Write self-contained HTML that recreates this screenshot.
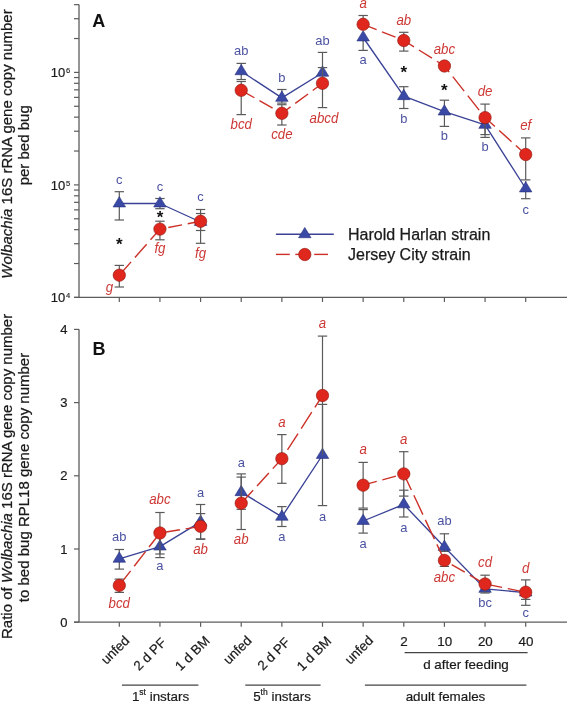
<!DOCTYPE html>
<html><head><meta charset="utf-8"><title>Wolbachia bed bug figure</title><style>
html,body{margin:0;padding:0;background:#fff;}
svg{display:block;will-change:transform;}
text{font-family:"Liberation Sans",sans-serif;}
.tl{font-size:13px;fill:#1a1a1a;stroke:#1a1a1a;stroke-width:0.2px;}
.sup{font-size:7.6px;fill:#1a1a1a;stroke:#1a1a1a;stroke-width:0.15px;}
.pl{font-size:18px;font-weight:bold;fill:#111;}
.yl{font-size:15px;fill:#1a1a1a;stroke:#1a1a1a;stroke-width:0.25px;}
.lb{font-size:13.6px;fill:#4a51a0;}
.lr{font-size:14px;fill:#cc3835;font-style:italic;}
.st{font-size:17px;font-weight:bold;fill:#111;}
.lg{font-size:16px;fill:#1a1a1a;stroke:#1a1a1a;stroke-width:0.25px;}
.xl{font-size:13.4px;fill:#1a1a1a;stroke:#1a1a1a;stroke-width:0.2px;}
.ss{font-size:8.5px;}
</style></head>
<body><svg width="567" height="702" viewBox="0 0 567 702">
<rect width="567" height="702" fill="#fff"/>
<line x1="79.0" y1="4.6" x2="79.0" y2="297.4" stroke="#5c5c5c" stroke-width="1.3"/>
<line x1="74" y1="297.4" x2="567" y2="297.4" stroke="#5c5c5c" stroke-width="1.3"/>
<line x1="74" y1="297.40" x2="79.0" y2="297.40" stroke="#5c5c5c" stroke-width="1.2"/>
<line x1="74" y1="263.53" x2="79.0" y2="263.53" stroke="#5c5c5c" stroke-width="1.2"/>
<line x1="74" y1="243.72" x2="79.0" y2="243.72" stroke="#5c5c5c" stroke-width="1.2"/>
<line x1="74" y1="229.67" x2="79.0" y2="229.67" stroke="#5c5c5c" stroke-width="1.2"/>
<line x1="74" y1="218.77" x2="79.0" y2="218.77" stroke="#5c5c5c" stroke-width="1.2"/>
<line x1="74" y1="209.86" x2="79.0" y2="209.86" stroke="#5c5c5c" stroke-width="1.2"/>
<line x1="74" y1="202.33" x2="79.0" y2="202.33" stroke="#5c5c5c" stroke-width="1.2"/>
<line x1="74" y1="195.80" x2="79.0" y2="195.80" stroke="#5c5c5c" stroke-width="1.2"/>
<line x1="74" y1="190.05" x2="79.0" y2="190.05" stroke="#5c5c5c" stroke-width="1.2"/>
<line x1="74" y1="184.90" x2="79.0" y2="184.90" stroke="#5c5c5c" stroke-width="1.2"/>
<line x1="74" y1="151.03" x2="79.0" y2="151.03" stroke="#5c5c5c" stroke-width="1.2"/>
<line x1="74" y1="131.22" x2="79.0" y2="131.22" stroke="#5c5c5c" stroke-width="1.2"/>
<line x1="74" y1="117.17" x2="79.0" y2="117.17" stroke="#5c5c5c" stroke-width="1.2"/>
<line x1="74" y1="106.27" x2="79.0" y2="106.27" stroke="#5c5c5c" stroke-width="1.2"/>
<line x1="74" y1="97.36" x2="79.0" y2="97.36" stroke="#5c5c5c" stroke-width="1.2"/>
<line x1="74" y1="89.83" x2="79.0" y2="89.83" stroke="#5c5c5c" stroke-width="1.2"/>
<line x1="74" y1="83.30" x2="79.0" y2="83.30" stroke="#5c5c5c" stroke-width="1.2"/>
<line x1="74" y1="77.55" x2="79.0" y2="77.55" stroke="#5c5c5c" stroke-width="1.2"/>
<line x1="74" y1="72.40" x2="79.0" y2="72.40" stroke="#5c5c5c" stroke-width="1.2"/>
<line x1="74" y1="38.53" x2="79.0" y2="38.53" stroke="#5c5c5c" stroke-width="1.2"/>
<line x1="74" y1="18.72" x2="79.0" y2="18.72" stroke="#5c5c5c" stroke-width="1.2"/>
<line x1="74" y1="4.67" x2="79.0" y2="4.67" stroke="#5c5c5c" stroke-width="1.2"/>
<line x1="119.30" y1="297.4" x2="119.30" y2="302.0" stroke="#5c5c5c" stroke-width="1.2"/>
<line x1="159.94" y1="297.4" x2="159.94" y2="302.0" stroke="#5c5c5c" stroke-width="1.2"/>
<line x1="200.58" y1="297.4" x2="200.58" y2="302.0" stroke="#5c5c5c" stroke-width="1.2"/>
<line x1="241.22" y1="297.4" x2="241.22" y2="302.0" stroke="#5c5c5c" stroke-width="1.2"/>
<line x1="281.86" y1="297.4" x2="281.86" y2="302.0" stroke="#5c5c5c" stroke-width="1.2"/>
<line x1="322.50" y1="297.4" x2="322.50" y2="302.0" stroke="#5c5c5c" stroke-width="1.2"/>
<line x1="363.14" y1="297.4" x2="363.14" y2="302.0" stroke="#5c5c5c" stroke-width="1.2"/>
<line x1="403.78" y1="297.4" x2="403.78" y2="302.0" stroke="#5c5c5c" stroke-width="1.2"/>
<line x1="444.42" y1="297.4" x2="444.42" y2="302.0" stroke="#5c5c5c" stroke-width="1.2"/>
<line x1="485.06" y1="297.4" x2="485.06" y2="302.0" stroke="#5c5c5c" stroke-width="1.2"/>
<line x1="525.70" y1="297.4" x2="525.70" y2="302.0" stroke="#5c5c5c" stroke-width="1.2"/>
<text x="65.3" y="302.40" class="tl" text-anchor="end">10</text>
<text x="66.0" y="298.30" class="sup">4</text>
<text x="65.3" y="189.90" class="tl" text-anchor="end">10</text>
<text x="66.0" y="185.80" class="sup">5</text>
<text x="65.3" y="77.40" class="tl" text-anchor="end">10</text>
<text x="66.0" y="73.30" class="sup">6</text>
<line x1="79.0" y1="329.2" x2="79.0" y2="622.2" stroke="#5c5c5c" stroke-width="1.3"/>
<line x1="74" y1="622.2" x2="567" y2="622.2" stroke="#5c5c5c" stroke-width="1.3"/>
<line x1="74" y1="622.20" x2="79.0" y2="622.20" stroke="#5c5c5c" stroke-width="1.2"/>
<text x="67.5" y="626.80" class="tl" text-anchor="end">0</text>
<line x1="74" y1="549.00" x2="79.0" y2="549.00" stroke="#5c5c5c" stroke-width="1.2"/>
<text x="67.5" y="553.60" class="tl" text-anchor="end">1</text>
<line x1="74" y1="475.80" x2="79.0" y2="475.80" stroke="#5c5c5c" stroke-width="1.2"/>
<text x="67.5" y="480.40" class="tl" text-anchor="end">2</text>
<line x1="74" y1="402.60" x2="79.0" y2="402.60" stroke="#5c5c5c" stroke-width="1.2"/>
<text x="67.5" y="407.20" class="tl" text-anchor="end">3</text>
<line x1="74" y1="329.40" x2="79.0" y2="329.40" stroke="#5c5c5c" stroke-width="1.2"/>
<text x="67.5" y="334.00" class="tl" text-anchor="end">4</text>
<line x1="119.30" y1="622.2" x2="119.30" y2="626.8000000000001" stroke="#5c5c5c" stroke-width="1.2"/>
<line x1="159.94" y1="622.2" x2="159.94" y2="626.8000000000001" stroke="#5c5c5c" stroke-width="1.2"/>
<line x1="200.58" y1="622.2" x2="200.58" y2="626.8000000000001" stroke="#5c5c5c" stroke-width="1.2"/>
<line x1="241.22" y1="622.2" x2="241.22" y2="626.8000000000001" stroke="#5c5c5c" stroke-width="1.2"/>
<line x1="281.86" y1="622.2" x2="281.86" y2="626.8000000000001" stroke="#5c5c5c" stroke-width="1.2"/>
<line x1="322.50" y1="622.2" x2="322.50" y2="626.8000000000001" stroke="#5c5c5c" stroke-width="1.2"/>
<line x1="363.14" y1="622.2" x2="363.14" y2="626.8000000000001" stroke="#5c5c5c" stroke-width="1.2"/>
<line x1="403.78" y1="622.2" x2="403.78" y2="626.8000000000001" stroke="#5c5c5c" stroke-width="1.2"/>
<line x1="444.42" y1="622.2" x2="444.42" y2="626.8000000000001" stroke="#5c5c5c" stroke-width="1.2"/>
<line x1="485.06" y1="622.2" x2="485.06" y2="626.8000000000001" stroke="#5c5c5c" stroke-width="1.2"/>
<line x1="525.70" y1="622.2" x2="525.70" y2="626.8000000000001" stroke="#5c5c5c" stroke-width="1.2"/>
<text x="92.2" y="27.3" class="pl">A</text>
<text x="92.6" y="355" class="pl">B</text>
<text transform="translate(12,144) rotate(-90)" class="yl" text-anchor="middle"><tspan font-style="italic">Wolbachia</tspan> 16S rRNA gene copy number</text>
<text transform="translate(28.6,145.3) rotate(-90)" class="yl" text-anchor="middle">per bed bug</text>
<text transform="translate(12,476.4) rotate(-90)" class="yl" text-anchor="middle">Ratio of <tspan font-style="italic">Wolbachia</tspan> 16S rRNA gene copy number</text>
<text transform="translate(28.6,477.5) rotate(-90)" class="yl" text-anchor="middle">to bed bug RPL18 gene copy number</text>
<line x1="119.30" y1="191.70" x2="119.30" y2="220.00" stroke="#5a5a5a" stroke-width="1.2"/><line x1="114.60" y1="191.70" x2="124.00" y2="191.70" stroke="#5a5a5a" stroke-width="1.2"/><line x1="114.60" y1="220.00" x2="124.00" y2="220.00" stroke="#5a5a5a" stroke-width="1.2"/>
<line x1="159.94" y1="198.50" x2="159.94" y2="208.70" stroke="#5a5a5a" stroke-width="1.2"/><line x1="155.24" y1="198.50" x2="164.64" y2="198.50" stroke="#5a5a5a" stroke-width="1.2"/><line x1="155.24" y1="208.70" x2="164.64" y2="208.70" stroke="#5a5a5a" stroke-width="1.2"/>
<line x1="200.58" y1="209.50" x2="200.58" y2="230.50" stroke="#5a5a5a" stroke-width="1.2"/><line x1="195.88" y1="209.50" x2="205.28" y2="209.50" stroke="#5a5a5a" stroke-width="1.2"/><line x1="195.88" y1="230.50" x2="205.28" y2="230.50" stroke="#5a5a5a" stroke-width="1.2"/>
<line x1="241.22" y1="63.40" x2="241.22" y2="79.50" stroke="#5a5a5a" stroke-width="1.2"/><line x1="236.52" y1="63.40" x2="245.92" y2="63.40" stroke="#5a5a5a" stroke-width="1.2"/><line x1="236.52" y1="79.50" x2="245.92" y2="79.50" stroke="#5a5a5a" stroke-width="1.2"/>
<line x1="281.86" y1="89.50" x2="281.86" y2="103.10" stroke="#5a5a5a" stroke-width="1.2"/><line x1="277.16" y1="89.50" x2="286.56" y2="89.50" stroke="#5a5a5a" stroke-width="1.2"/><line x1="277.16" y1="103.10" x2="286.56" y2="103.10" stroke="#5a5a5a" stroke-width="1.2"/>
<line x1="322.50" y1="52.40" x2="322.50" y2="90.00" stroke="#5a5a5a" stroke-width="1.2"/><line x1="317.80" y1="52.40" x2="327.20" y2="52.40" stroke="#5a5a5a" stroke-width="1.2"/>
<line x1="363.14" y1="37.50" x2="363.14" y2="50.40" stroke="#5a5a5a" stroke-width="1.2"/><line x1="358.44" y1="50.40" x2="367.84" y2="50.40" stroke="#5a5a5a" stroke-width="1.2"/>
<line x1="403.78" y1="86.70" x2="403.78" y2="108.50" stroke="#5a5a5a" stroke-width="1.2"/><line x1="399.08" y1="86.70" x2="408.48" y2="86.70" stroke="#5a5a5a" stroke-width="1.2"/><line x1="399.08" y1="108.50" x2="408.48" y2="108.50" stroke="#5a5a5a" stroke-width="1.2"/>
<line x1="444.42" y1="100.20" x2="444.42" y2="126.40" stroke="#5a5a5a" stroke-width="1.2"/><line x1="439.72" y1="100.20" x2="449.12" y2="100.20" stroke="#5a5a5a" stroke-width="1.2"/><line x1="439.72" y1="126.40" x2="449.12" y2="126.40" stroke="#5a5a5a" stroke-width="1.2"/>
<line x1="485.06" y1="124.90" x2="485.06" y2="134.60" stroke="#5a5a5a" stroke-width="1.2"/><line x1="480.36" y1="134.60" x2="489.76" y2="134.60" stroke="#5a5a5a" stroke-width="1.2"/>
<line x1="525.70" y1="181.00" x2="525.70" y2="198.70" stroke="#5a5a5a" stroke-width="1.2"/><line x1="521.00" y1="198.70" x2="530.40" y2="198.70" stroke="#5a5a5a" stroke-width="1.2"/>
<polyline points="119.30,203.50 159.94,203.50 200.58,222.00" fill="none" stroke="#3a4296" stroke-width="1.35" stroke-linejoin="round"/>
<polyline points="241.22,71.30 281.86,97.90 322.50,72.80" fill="none" stroke="#3a4296" stroke-width="1.35" stroke-linejoin="round"/>
<polyline points="363.14,37.50 403.78,96.20 444.42,111.60 485.06,124.90 525.70,188.50" fill="none" stroke="#3a4296" stroke-width="1.35" stroke-linejoin="round"/>
<path d="M119.30 196.63 L125.55 206.93 L113.05 206.93Z" fill="#3a48a6" stroke="#26307a" stroke-width="0.6"/>
<path d="M159.94 196.63 L166.19 206.93 L153.69 206.93Z" fill="#3a48a6" stroke="#26307a" stroke-width="0.6"/>
<path d="M200.58 215.13 L206.83 225.43 L194.33 225.43Z" fill="#3a48a6" stroke="#26307a" stroke-width="0.6"/>
<path d="M241.22 64.43 L247.47 74.73 L234.97 74.73Z" fill="#3a48a6" stroke="#26307a" stroke-width="0.6"/>
<path d="M281.86 91.03 L288.11 101.33 L275.61 101.33Z" fill="#3a48a6" stroke="#26307a" stroke-width="0.6"/>
<path d="M322.50 65.93 L328.75 76.23 L316.25 76.23Z" fill="#3a48a6" stroke="#26307a" stroke-width="0.6"/>
<path d="M363.14 30.63 L369.39 40.93 L356.89 40.93Z" fill="#3a48a6" stroke="#26307a" stroke-width="0.6"/>
<path d="M403.78 89.33 L410.03 99.63 L397.53 99.63Z" fill="#3a48a6" stroke="#26307a" stroke-width="0.6"/>
<path d="M444.42 104.73 L450.67 115.03 L438.17 115.03Z" fill="#3a48a6" stroke="#26307a" stroke-width="0.6"/>
<path d="M485.06 118.03 L491.31 128.33 L478.81 128.33Z" fill="#3a48a6" stroke="#26307a" stroke-width="0.6"/>
<path d="M525.70 181.63 L531.95 191.93 L519.45 191.93Z" fill="#3a48a6" stroke="#26307a" stroke-width="0.6"/>
<line x1="119.30" y1="265.40" x2="119.30" y2="287.00" stroke="#5a5a5a" stroke-width="1.2"/><line x1="114.60" y1="265.40" x2="124.00" y2="265.40" stroke="#5a5a5a" stroke-width="1.2"/><line x1="114.60" y1="287.00" x2="124.00" y2="287.00" stroke="#5a5a5a" stroke-width="1.2"/>
<line x1="159.94" y1="221.20" x2="159.94" y2="239.80" stroke="#5a5a5a" stroke-width="1.2"/><line x1="155.24" y1="221.20" x2="164.64" y2="221.20" stroke="#5a5a5a" stroke-width="1.2"/><line x1="155.24" y1="239.80" x2="164.64" y2="239.80" stroke="#5a5a5a" stroke-width="1.2"/>
<line x1="200.58" y1="213.50" x2="200.58" y2="243.30" stroke="#5a5a5a" stroke-width="1.2"/><line x1="195.88" y1="213.50" x2="205.28" y2="213.50" stroke="#5a5a5a" stroke-width="1.2"/><line x1="195.88" y1="243.30" x2="205.28" y2="243.30" stroke="#5a5a5a" stroke-width="1.2"/>
<line x1="241.22" y1="81.50" x2="241.22" y2="114.60" stroke="#5a5a5a" stroke-width="1.2"/><line x1="236.52" y1="81.50" x2="245.92" y2="81.50" stroke="#5a5a5a" stroke-width="1.2"/><line x1="236.52" y1="114.60" x2="245.92" y2="114.60" stroke="#5a5a5a" stroke-width="1.2"/>
<line x1="281.86" y1="104.70" x2="281.86" y2="125.00" stroke="#5a5a5a" stroke-width="1.2"/><line x1="277.16" y1="104.70" x2="286.56" y2="104.70" stroke="#5a5a5a" stroke-width="1.2"/><line x1="277.16" y1="125.00" x2="286.56" y2="125.00" stroke="#5a5a5a" stroke-width="1.2"/>
<line x1="322.50" y1="67.60" x2="322.50" y2="107.60" stroke="#5a5a5a" stroke-width="1.2"/><line x1="317.80" y1="67.60" x2="327.20" y2="67.60" stroke="#5a5a5a" stroke-width="1.2"/><line x1="317.80" y1="107.60" x2="327.20" y2="107.60" stroke="#5a5a5a" stroke-width="1.2"/>
<line x1="363.14" y1="15.50" x2="363.14" y2="24.30" stroke="#5a5a5a" stroke-width="1.2"/><line x1="358.44" y1="15.50" x2="367.84" y2="15.50" stroke="#5a5a5a" stroke-width="1.2"/>
<line x1="403.78" y1="32.30" x2="403.78" y2="51.10" stroke="#5a5a5a" stroke-width="1.2"/><line x1="399.08" y1="32.30" x2="408.48" y2="32.30" stroke="#5a5a5a" stroke-width="1.2"/><line x1="399.08" y1="51.10" x2="408.48" y2="51.10" stroke="#5a5a5a" stroke-width="1.2"/>

<line x1="485.06" y1="104.10" x2="485.06" y2="137.40" stroke="#5a5a5a" stroke-width="1.2"/><line x1="480.36" y1="104.10" x2="489.76" y2="104.10" stroke="#5a5a5a" stroke-width="1.2"/><line x1="480.36" y1="137.40" x2="489.76" y2="137.40" stroke="#5a5a5a" stroke-width="1.2"/>
<line x1="525.70" y1="137.90" x2="525.70" y2="179.90" stroke="#5a5a5a" stroke-width="1.2"/><line x1="521.00" y1="137.90" x2="530.40" y2="137.90" stroke="#5a5a5a" stroke-width="1.2"/><line x1="521.00" y1="179.90" x2="530.40" y2="179.90" stroke="#5a5a5a" stroke-width="1.2"/>
<path d="M119.30 275.20L131.06 261.86 M134.89 257.51L146.65 244.17 M150.49 239.82L159.94 229.10 M159.94 229.10L162.63 228.58 M168.32 227.49L182.02 224.86 M187.72 223.77L200.58 221.30" fill="none" stroke="#cc3128" stroke-width="1.4"/>
<path d="M241.22 90.30L254.40 97.76 M259.45 100.61L272.62 108.07 M277.67 110.93L281.86 113.30 M281.86 113.30L290.59 106.85 M295.26 103.41L308.06 93.96 M312.73 90.51L322.50 83.30" fill="none" stroke="#cc3128" stroke-width="1.4"/>
<path d="M363.14 24.30L376.61 29.67 M382.00 31.82L395.47 37.19 M400.85 39.33L403.78 40.50 M403.78 40.50L413.99 46.91 M418.91 49.99L431.96 58.18 M436.87 61.26L444.42 66.00 M444.42 66.00L449.22 72.09 M452.80 76.65L464.18 91.09 M467.77 95.64L479.14 110.08 M482.73 114.64L485.06 117.60 M485.06 117.60L494.90 126.54 M499.20 130.43L511.57 141.67 M515.87 145.57L525.70 154.50" fill="none" stroke="#cc3128" stroke-width="1.4"/>
<circle cx="119.30" cy="275.20" r="6.2" fill="#e0271d" stroke="#8c1810" stroke-width="0.6"/>
<circle cx="159.94" cy="229.10" r="6.2" fill="#e0271d" stroke="#8c1810" stroke-width="0.6"/>
<circle cx="200.58" cy="221.30" r="6.2" fill="#e0271d" stroke="#8c1810" stroke-width="0.6"/>
<circle cx="241.22" cy="90.30" r="6.2" fill="#e0271d" stroke="#8c1810" stroke-width="0.6"/>
<circle cx="281.86" cy="113.30" r="6.2" fill="#e0271d" stroke="#8c1810" stroke-width="0.6"/>
<circle cx="322.50" cy="83.30" r="6.2" fill="#e0271d" stroke="#8c1810" stroke-width="0.6"/>
<circle cx="363.14" cy="24.30" r="6.2" fill="#e0271d" stroke="#8c1810" stroke-width="0.6"/>
<circle cx="403.78" cy="40.50" r="6.2" fill="#e0271d" stroke="#8c1810" stroke-width="0.6"/>
<circle cx="444.42" cy="66.00" r="6.2" fill="#e0271d" stroke="#8c1810" stroke-width="0.6"/>
<circle cx="485.06" cy="117.60" r="6.2" fill="#e0271d" stroke="#8c1810" stroke-width="0.6"/>
<circle cx="525.70" cy="154.50" r="6.2" fill="#e0271d" stroke="#8c1810" stroke-width="0.6"/>
<line x1="119.30" y1="549.50" x2="119.30" y2="569.10" stroke="#5a5a5a" stroke-width="1.2"/><line x1="114.60" y1="549.50" x2="124.00" y2="549.50" stroke="#5a5a5a" stroke-width="1.2"/><line x1="114.60" y1="569.10" x2="124.00" y2="569.10" stroke="#5a5a5a" stroke-width="1.2"/>
<line x1="159.94" y1="536.00" x2="159.94" y2="557.60" stroke="#5a5a5a" stroke-width="1.2"/><line x1="155.24" y1="557.60" x2="164.64" y2="557.60" stroke="#5a5a5a" stroke-width="1.2"/>
<line x1="200.58" y1="504.50" x2="200.58" y2="539.30" stroke="#5a5a5a" stroke-width="1.2"/><line x1="195.88" y1="504.50" x2="205.28" y2="504.50" stroke="#5a5a5a" stroke-width="1.2"/><line x1="195.88" y1="539.30" x2="205.28" y2="539.30" stroke="#5a5a5a" stroke-width="1.2"/>
<line x1="241.22" y1="473.90" x2="241.22" y2="509.30" stroke="#5a5a5a" stroke-width="1.2"/><line x1="236.52" y1="473.90" x2="245.92" y2="473.90" stroke="#5a5a5a" stroke-width="1.2"/><line x1="236.52" y1="509.30" x2="245.92" y2="509.30" stroke="#5a5a5a" stroke-width="1.2"/>
<line x1="281.86" y1="506.60" x2="281.86" y2="526.50" stroke="#5a5a5a" stroke-width="1.2"/><line x1="277.16" y1="506.60" x2="286.56" y2="506.60" stroke="#5a5a5a" stroke-width="1.2"/><line x1="277.16" y1="526.50" x2="286.56" y2="526.50" stroke="#5a5a5a" stroke-width="1.2"/>
<line x1="322.50" y1="404.40" x2="322.50" y2="505.60" stroke="#5a5a5a" stroke-width="1.2"/><line x1="317.80" y1="404.40" x2="327.20" y2="404.40" stroke="#5a5a5a" stroke-width="1.2"/><line x1="317.80" y1="505.60" x2="327.20" y2="505.60" stroke="#5a5a5a" stroke-width="1.2"/>
<line x1="363.14" y1="509.60" x2="363.14" y2="533.10" stroke="#5a5a5a" stroke-width="1.2"/><line x1="358.44" y1="509.60" x2="367.84" y2="509.60" stroke="#5a5a5a" stroke-width="1.2"/><line x1="358.44" y1="533.10" x2="367.84" y2="533.10" stroke="#5a5a5a" stroke-width="1.2"/>
<line x1="403.78" y1="490.20" x2="403.78" y2="517.00" stroke="#5a5a5a" stroke-width="1.2"/><line x1="399.08" y1="490.20" x2="408.48" y2="490.20" stroke="#5a5a5a" stroke-width="1.2"/><line x1="399.08" y1="517.00" x2="408.48" y2="517.00" stroke="#5a5a5a" stroke-width="1.2"/>
<line x1="444.42" y1="533.80" x2="444.42" y2="551.40" stroke="#5a5a5a" stroke-width="1.2"/><line x1="439.72" y1="533.80" x2="449.12" y2="533.80" stroke="#5a5a5a" stroke-width="1.2"/><line x1="439.72" y1="551.40" x2="449.12" y2="551.40" stroke="#5a5a5a" stroke-width="1.2"/>

<line x1="525.70" y1="586.00" x2="525.70" y2="599.40" stroke="#5a5a5a" stroke-width="1.2"/><line x1="521.00" y1="599.40" x2="530.40" y2="599.40" stroke="#5a5a5a" stroke-width="1.2"/>
<polyline points="119.30,558.80 159.94,546.60 200.58,521.90" fill="none" stroke="#3a4296" stroke-width="1.35" stroke-linejoin="round"/>
<polyline points="241.22,492.20 281.86,516.80 322.50,455.00" fill="none" stroke="#3a4296" stroke-width="1.35" stroke-linejoin="round"/>
<polyline points="363.14,521.00 403.78,504.40 444.42,547.00 485.06,588.90 525.70,592.60" fill="none" stroke="#3a4296" stroke-width="1.35" stroke-linejoin="round"/>
<path d="M119.30 551.93 L125.55 562.23 L113.05 562.23Z" fill="#3a48a6" stroke="#26307a" stroke-width="0.6"/>
<path d="M159.94 539.73 L166.19 550.03 L153.69 550.03Z" fill="#3a48a6" stroke="#26307a" stroke-width="0.6"/>
<path d="M200.58 515.03 L206.83 525.33 L194.33 525.33Z" fill="#3a48a6" stroke="#26307a" stroke-width="0.6"/>
<path d="M241.22 485.33 L247.47 495.63 L234.97 495.63Z" fill="#3a48a6" stroke="#26307a" stroke-width="0.6"/>
<path d="M281.86 509.93 L288.11 520.23 L275.61 520.23Z" fill="#3a48a6" stroke="#26307a" stroke-width="0.6"/>
<path d="M322.50 448.13 L328.75 458.43 L316.25 458.43Z" fill="#3a48a6" stroke="#26307a" stroke-width="0.6"/>
<path d="M363.14 514.13 L369.39 524.43 L356.89 524.43Z" fill="#3a48a6" stroke="#26307a" stroke-width="0.6"/>
<path d="M403.78 497.53 L410.03 507.83 L397.53 507.83Z" fill="#3a48a6" stroke="#26307a" stroke-width="0.6"/>
<path d="M444.42 540.13 L450.67 550.43 L438.17 550.43Z" fill="#3a48a6" stroke="#26307a" stroke-width="0.6"/>
<path d="M485.06 582.03 L491.31 592.33 L478.81 592.33Z" fill="#3a48a6" stroke="#26307a" stroke-width="0.6"/>
<path d="M525.70 585.73 L531.95 596.03 L519.45 596.03Z" fill="#3a48a6" stroke="#26307a" stroke-width="0.6"/>
<line x1="119.30" y1="579.10" x2="119.30" y2="592.40" stroke="#5a5a5a" stroke-width="1.2"/><line x1="114.60" y1="579.10" x2="124.00" y2="579.10" stroke="#5a5a5a" stroke-width="1.2"/><line x1="114.60" y1="592.40" x2="124.00" y2="592.40" stroke="#5a5a5a" stroke-width="1.2"/>
<line x1="159.94" y1="512.50" x2="159.94" y2="554.00" stroke="#5a5a5a" stroke-width="1.2"/><line x1="155.24" y1="512.50" x2="164.64" y2="512.50" stroke="#5a5a5a" stroke-width="1.2"/><line x1="155.24" y1="554.00" x2="164.64" y2="554.00" stroke="#5a5a5a" stroke-width="1.2"/>
<line x1="200.58" y1="513.60" x2="200.58" y2="538.90" stroke="#5a5a5a" stroke-width="1.2"/><line x1="195.88" y1="513.60" x2="205.28" y2="513.60" stroke="#5a5a5a" stroke-width="1.2"/><line x1="195.88" y1="538.90" x2="205.28" y2="538.90" stroke="#5a5a5a" stroke-width="1.2"/>
<line x1="241.22" y1="477.10" x2="241.22" y2="529.50" stroke="#5a5a5a" stroke-width="1.2"/><line x1="236.52" y1="477.10" x2="245.92" y2="477.10" stroke="#5a5a5a" stroke-width="1.2"/><line x1="236.52" y1="529.50" x2="245.92" y2="529.50" stroke="#5a5a5a" stroke-width="1.2"/>
<line x1="281.86" y1="434.60" x2="281.86" y2="483.30" stroke="#5a5a5a" stroke-width="1.2"/><line x1="277.16" y1="434.60" x2="286.56" y2="434.60" stroke="#5a5a5a" stroke-width="1.2"/><line x1="277.16" y1="483.30" x2="286.56" y2="483.30" stroke="#5a5a5a" stroke-width="1.2"/>
<line x1="322.50" y1="336.10" x2="322.50" y2="455.00" stroke="#5a5a5a" stroke-width="1.2"/><line x1="317.80" y1="336.10" x2="327.20" y2="336.10" stroke="#5a5a5a" stroke-width="1.2"/>
<line x1="363.14" y1="462.40" x2="363.14" y2="508.10" stroke="#5a5a5a" stroke-width="1.2"/><line x1="358.44" y1="462.40" x2="367.84" y2="462.40" stroke="#5a5a5a" stroke-width="1.2"/><line x1="358.44" y1="508.10" x2="367.84" y2="508.10" stroke="#5a5a5a" stroke-width="1.2"/>
<line x1="403.78" y1="451.70" x2="403.78" y2="496.10" stroke="#5a5a5a" stroke-width="1.2"/><line x1="399.08" y1="451.70" x2="408.48" y2="451.70" stroke="#5a5a5a" stroke-width="1.2"/><line x1="399.08" y1="496.10" x2="408.48" y2="496.10" stroke="#5a5a5a" stroke-width="1.2"/>
<line x1="444.42" y1="554.40" x2="444.42" y2="566.40" stroke="#5a5a5a" stroke-width="1.2"/><line x1="439.72" y1="566.40" x2="449.12" y2="566.40" stroke="#5a5a5a" stroke-width="1.2"/>
<line x1="485.06" y1="575.20" x2="485.06" y2="593.00" stroke="#5a5a5a" stroke-width="1.2"/><line x1="480.36" y1="575.20" x2="489.76" y2="575.20" stroke="#5a5a5a" stroke-width="1.2"/><line x1="480.36" y1="593.00" x2="489.76" y2="593.00" stroke="#5a5a5a" stroke-width="1.2"/>
<line x1="525.70" y1="579.90" x2="525.70" y2="605.30" stroke="#5a5a5a" stroke-width="1.2"/><line x1="521.00" y1="579.90" x2="530.40" y2="579.90" stroke="#5a5a5a" stroke-width="1.2"/><line x1="521.00" y1="605.30" x2="530.40" y2="605.30" stroke="#5a5a5a" stroke-width="1.2"/>
<path d="M119.30 585.40L130.62 570.81 M134.17 566.22L145.49 551.63 M149.04 547.05L159.94 533.00 M159.94 533.00L160.45 532.92 M166.18 531.99L179.90 529.76 M185.62 528.83L199.35 526.60" fill="none" stroke="#cc3128" stroke-width="1.4"/>
<path d="M241.22 503.20L253.09 490.20 M257.00 485.92L268.87 472.93 M272.78 468.64L281.86 458.70 M281.86 458.70L284.34 454.84 M287.48 449.96L298.04 433.54 M301.18 428.66L311.74 412.23 M314.88 407.35L322.50 395.50" fill="none" stroke="#cc3128" stroke-width="1.4"/>
<path d="M363.14 485.20L376.76 481.41 M382.35 479.86L395.97 476.07 M401.56 474.52L403.78 473.90 M403.78 473.90L411.37 490.05 M413.83 495.29L422.89 514.58 M425.36 519.83L434.42 539.11 M436.88 544.36L444.42 560.40 M444.42 560.40L446.63 561.68 M451.65 564.60L464.80 572.23 M469.81 575.14L482.96 582.78 M488.36 584.67L502.06 587.43 M507.74 588.58L521.44 591.34" fill="none" stroke="#cc3128" stroke-width="1.4"/>
<circle cx="119.30" cy="585.40" r="6.2" fill="#e0271d" stroke="#8c1810" stroke-width="0.6"/>
<circle cx="159.94" cy="533.00" r="6.2" fill="#e0271d" stroke="#8c1810" stroke-width="0.6"/>
<circle cx="200.58" cy="526.40" r="6.2" fill="#e0271d" stroke="#8c1810" stroke-width="0.6"/>
<circle cx="241.22" cy="503.20" r="6.2" fill="#e0271d" stroke="#8c1810" stroke-width="0.6"/>
<circle cx="281.86" cy="458.70" r="6.2" fill="#e0271d" stroke="#8c1810" stroke-width="0.6"/>
<circle cx="322.50" cy="395.50" r="6.2" fill="#e0271d" stroke="#8c1810" stroke-width="0.6"/>
<circle cx="363.14" cy="485.20" r="6.2" fill="#e0271d" stroke="#8c1810" stroke-width="0.6"/>
<circle cx="403.78" cy="473.90" r="6.2" fill="#e0271d" stroke="#8c1810" stroke-width="0.6"/>
<circle cx="444.42" cy="560.40" r="6.2" fill="#e0271d" stroke="#8c1810" stroke-width="0.6"/>
<circle cx="485.06" cy="584.00" r="6.2" fill="#e0271d" stroke="#8c1810" stroke-width="0.6"/>
<circle cx="525.70" cy="592.20" r="6.2" fill="#e0271d" stroke="#8c1810" stroke-width="0.6"/>
<text transform="translate(119.30 183.90) scale(0.95 1)" class="lb" text-anchor="middle">c</text>
<text transform="translate(109.50 291.50) scale(0.95 1)" class="lr" text-anchor="middle">g</text>
<text x="119.30" y="250.00" class="st" text-anchor="middle">*</text>
<text transform="translate(159.94 190.60) scale(0.95 1)" class="lb" text-anchor="middle">c</text>
<text transform="translate(159.94 253.00) scale(0.95 1)" class="lr" text-anchor="middle">fg</text>
<text x="159.94" y="222.50" class="st" text-anchor="middle">*</text>
<text transform="translate(200.58 200.60) scale(0.95 1)" class="lb" text-anchor="middle">c</text>
<text transform="translate(200.58 258.00) scale(0.95 1)" class="lr" text-anchor="middle">fg</text>
<text transform="translate(241.22 55.00) scale(0.95 1)" class="lb" text-anchor="middle">ab</text>
<text transform="translate(241.22 128.70) scale(0.95 1)" class="lr" text-anchor="middle">bcd</text>
<text transform="translate(281.86 82.00) scale(0.95 1)" class="lb" text-anchor="middle">b</text>
<text transform="translate(281.86 139.20) scale(0.95 1)" class="lr" text-anchor="middle">cde</text>
<text transform="translate(322.50 44.90) scale(0.95 1)" class="lb" text-anchor="middle">ab</text>
<text transform="translate(324.00 122.50) scale(0.95 1)" class="lr" text-anchor="middle">abcd</text>
<text transform="translate(363.14 7.50) scale(0.95 1)" class="lr" text-anchor="middle">a</text>
<text transform="translate(363.14 64.40) scale(0.95 1)" class="lb" text-anchor="middle">a</text>
<text transform="translate(403.78 24.60) scale(0.95 1)" class="lr" text-anchor="middle">ab</text>
<text x="403.78" y="77.50" class="st" text-anchor="middle">*</text>
<text transform="translate(403.78 123.00) scale(0.95 1)" class="lb" text-anchor="middle">b</text>
<text transform="translate(444.42 54.00) scale(0.95 1)" class="lr" text-anchor="middle">abc</text>
<text x="444.42" y="95.80" class="st" text-anchor="middle">*</text>
<text transform="translate(444.42 140.40) scale(0.95 1)" class="lb" text-anchor="middle">b</text>
<text transform="translate(485.06 96.40) scale(0.95 1)" class="lr" text-anchor="middle">de</text>
<text transform="translate(485.06 151.20) scale(0.95 1)" class="lb" text-anchor="middle">b</text>
<text transform="translate(525.70 129.70) scale(0.95 1)" class="lr" text-anchor="middle">ef</text>
<text transform="translate(525.70 213.60) scale(0.95 1)" class="lb" text-anchor="middle">c</text>
<text transform="translate(119.30 540.90) scale(0.95 1)" class="lb" text-anchor="middle">ab</text>
<text transform="translate(119.30 607.60) scale(0.95 1)" class="lr" text-anchor="middle">bcd</text>
<text transform="translate(159.94 504.20) scale(0.95 1)" class="lr" text-anchor="middle">abc</text>
<text transform="translate(159.94 570.40) scale(0.95 1)" class="lb" text-anchor="middle">a</text>
<text transform="translate(200.58 497.00) scale(0.95 1)" class="lb" text-anchor="middle">a</text>
<text transform="translate(200.58 553.80) scale(0.95 1)" class="lr" text-anchor="middle">ab</text>
<text transform="translate(241.22 466.50) scale(0.95 1)" class="lb" text-anchor="middle">a</text>
<text transform="translate(241.22 544.00) scale(0.95 1)" class="lr" text-anchor="middle">ab</text>
<text transform="translate(281.86 426.70) scale(0.95 1)" class="lr" text-anchor="middle">a</text>
<text transform="translate(281.86 541.40) scale(0.95 1)" class="lb" text-anchor="middle">a</text>
<text transform="translate(322.50 327.90) scale(0.95 1)" class="lr" text-anchor="middle">a</text>
<text transform="translate(322.50 520.60) scale(0.95 1)" class="lb" text-anchor="middle">a</text>
<text transform="translate(363.14 454.10) scale(0.95 1)" class="lr" text-anchor="middle">a</text>
<text transform="translate(363.14 547.60) scale(0.95 1)" class="lb" text-anchor="middle">a</text>
<text transform="translate(403.78 444.40) scale(0.95 1)" class="lr" text-anchor="middle">a</text>
<text transform="translate(403.78 531.90) scale(0.95 1)" class="lb" text-anchor="middle">a</text>
<text transform="translate(444.42 525.40) scale(0.95 1)" class="lb" text-anchor="middle">ab</text>
<text transform="translate(444.42 581.50) scale(0.95 1)" class="lr" text-anchor="middle">abc</text>
<text transform="translate(485.06 567.00) scale(0.95 1)" class="lr" text-anchor="middle">cd</text>
<text transform="translate(485.06 607.20) scale(0.95 1)" class="lb" text-anchor="middle">bc</text>
<text transform="translate(525.70 572.60) scale(0.95 1)" class="lr" text-anchor="middle">d</text>
<text transform="translate(525.70 617.10) scale(0.95 1)" class="lb" text-anchor="middle">c</text>
<line x1="275.9" y1="234.3" x2="333.8" y2="234.3" stroke="#3a4296" stroke-width="1.5"/>
<path d="M304.80 227.43 L311.05 237.73 L298.55 237.73Z" fill="#3a48a6" stroke="#26307a" stroke-width="0.6"/>
<line x1="275.9" y1="254.4" x2="289.8" y2="254.4" stroke="#cc3128" stroke-width="1.4"/>
<line x1="295.3" y1="254.4" x2="305" y2="254.4" stroke="#cc3128" stroke-width="1.4"/>
<line x1="314.2" y1="254.4" x2="328" y2="254.4" stroke="#cc3128" stroke-width="1.4"/>
<circle cx="304.80" cy="254.50" r="6.2" fill="#e0271d" stroke="#8c1810" stroke-width="0.6"/>
<text x="348" y="239.9" class="lg">Harold Harlan strain</text>
<text x="348" y="260.1" class="lg">Jersey City strain</text>
<text transform="translate(130.20,641.40) rotate(-45)" class="xl" text-anchor="end">unfed</text>
<text transform="translate(166.94,643.45) rotate(-45)" class="xl" text-anchor="end">2 d PF</text>
<text transform="translate(210.53,641.55) rotate(-45)" class="xl" text-anchor="end">1 d BM</text>
<text transform="translate(252.52,641.40) rotate(-45)" class="xl" text-anchor="end">unfed</text>
<text transform="translate(290.86,643.15) rotate(-45)" class="xl" text-anchor="end">2 d PF</text>
<text transform="translate(332.20,641.80) rotate(-45)" class="xl" text-anchor="end">1 d BM</text>
<text transform="translate(374.04,641.35) rotate(-45)" class="xl" text-anchor="end">unfed</text>
<text x="404.08" y="646.3" class="xl" text-anchor="middle">2</text>
<text x="444.72" y="646.3" class="xl" text-anchor="middle">10</text>
<text x="485.36" y="646.3" class="xl" text-anchor="middle">20</text>
<text x="526.00" y="646.3" class="xl" text-anchor="middle">40</text>
<line x1="404.6" y1="652.6" x2="527.6" y2="652.6" stroke="#444" stroke-width="1.2"/>
<text x="466" y="668.7" class="xl" text-anchor="middle">d after feeding</text>
<line x1="122" y1="685.2" x2="198.4" y2="685.2" stroke="#444" stroke-width="1.2"/>
<line x1="245.3" y1="685.2" x2="320.6" y2="685.2" stroke="#444" stroke-width="1.2"/>
<line x1="364.9" y1="685.2" x2="526.4" y2="685.2" stroke="#444" stroke-width="1.2"/>
<text x="160.5" y="701" class="xl" text-anchor="middle">1<tspan class="ss" dy="-6.5">st</tspan><tspan dy="6.5"> instars</tspan></text>
<text x="282" y="701" class="xl" text-anchor="middle">5<tspan class="ss" dy="-6.5">th</tspan><tspan dy="6.5"> instars</tspan></text>
<text x="445.5" y="701" class="xl" text-anchor="middle">adult females</text>
</svg></body></html>
